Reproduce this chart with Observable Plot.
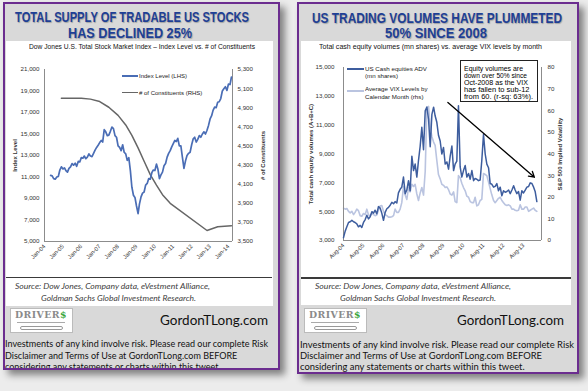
<!DOCTYPE html>
<html><head><meta charset="utf-8">
<script src="https://cdn.jsdelivr.net/npm/d3@7"></script>
<script src="https://cdn.jsdelivr.net/npm/@observablehq/plot@0.6"></script>
<style>
html,body{margin:0;padding:0}
body{width:588px;height:391px;position:relative;overflow:hidden;background:#ececec;font-family:"Liberation Sans",Arial,sans-serif}
.bg{position:absolute;background:#d9d9d9;box-shadow:5px 5px 7px rgba(0,0,0,0.45)}
.layer{position:absolute;left:0;top:0;width:588px;height:391px}
.border{position:absolute;border:2.5px solid #6b2d8f;box-sizing:border-box}
.t{position:absolute;white-space:nowrap;line-height:1;transform-origin:0 0}
.box{position:absolute;box-sizing:border-box}
</style>
</head><body>
<script>
// ================= DATA =================
// Left chart: Dow Jones U.S. Total Stock Market Index (monthly, from May 2004)
const indexStart = "2004-05";
const indexValues = [
  11150, 11100, 10850, 10800, 11000, 11050, 11650, 11950,
  11750, 11850, 11600, 11450, 11800, 11950, 12250, 12100, 12280, 12000, 12450, 12400,
  12800, 12750, 12950, 12700, 12850, 13150, 12950, 12900, 13200, 13500, 13750, 13950,
  14200, 14400, 14250, 15400, 15200, 14850, 14900, 15250, 15650, 15500, 14850, 14700,
  13900, 13750, 13450, 14000, 13300, 13150, 12550, 12800, 11600, 10050, 9300, 9100,
  8300, 7600, 8500, 9150, 9500, 9600, 10250, 10400, 10850, 10800, 11400, 11650,
  11600, 12200, 11750, 10850, 11200, 11450, 12050, 12250, 12850, 13200, 13450, 13800,
  14100, 14400, 14300, 14600, 13900, 13900, 12850, 11800, 12500, 13000, 13200, 13300,
  14000, 14550, 14700, 14250, 14500, 14850, 14700, 15000, 15200, 15000, 15350, 15800,
  16400, 16700, 17200, 17500, 17450, 17950, 18000, 18300, 19000, 19200, 19400, 19050,
  19650, 19600, 20300
];
// Number of constituents (RHS)
const constituentDates = ["2004-12","2005-06","2006-01","2006-07","2007-01","2007-07","2008-01","2008-06","2008-10","2009-02","2009-06","2009-10","2010-02","2010-06","2010-11","2012-11","2013-06","2014-03"];
const constituentValues = [5000,5000,5000,4990,4965,4905,4820,4720,4610,4480,4340,4200,4090,3990,3900,3615,3655,3665];
const leftYTicks = [5000,7000,9000,11000,13000,15000,17000,19000,21000];
const leftY2Ticks = [3500,3700,3900,4100,4300,4500,4700,4900,5100,5300];
const leftXTicks = ["2004-01","2005-01","2006-01","2007-01","2008-01","2009-01","2010-01","2011-01","2012-01","2013-01","2014-01"];

// Right chart: US cash equities ADV (mn shares), monthly from Aug 2004
const volumeStart = "2004-08";
const volumeValues = [
  3200, 3650, 3950, 4250, 4300,
  4400, 4300, 4250, 4150, 3950, 4050, 3900, 4250, 4450, 4750, 4500, 4650,
  5000, 4900, 5100, 4850, 5350, 5250, 4900, 4400, 4950, 5200, 5300, 5450,
  5650, 5550, 5700, 5600, 6300, 6550, 6700, 7400, 6250, 6500, 7150, 6450,
  8850, 7850, 8300, 7400, 8550, 9550, 10850, 9300, 12000, 12250, 11400, 9500,
  11750, 12250, 11650, 11200, 10300, 9900, 9000, 9450, 8300, 8450, 7950, 8850,
  9550, 7850, 8300, 8500, 12350, 8100, 7400, 7850, 8200, 7400, 7650, 7250,
  7850, 7150, 7300, 7250, 7150, 7200, 8550, 10350, 9000, 8300, 8050, 6950,
  6900, 6700, 6750, 6950, 6450, 6700, 6100, 6450, 6350, 6400, 6500, 6250,
  6500, 6800, 6500, 6250, 6400, 5800, 6450, 6300, 6500, 6700, 6750, 7000,
  6950, 6700, 6400, 5700
];
// Average VIX by calendar month (rhs), from Aug 2004
const vixStart = "2004-08";
const vixValues = [
  15.0, 14.5, 14.8, 13.5, 12.8,
  13.5, 12.0, 13.0, 14.5, 13.8, 11.5, 11.2, 12.5, 12.0, 14.5, 11.8, 11.5,
  12.5, 12.0, 11.5, 11.8, 14.0, 16.0, 16.2, 13.5, 12.0, 11.5, 10.8, 10.8,
  11.0, 11.5, 14.5, 13.0, 13.0, 14.5, 17.5, 25.0, 21.0, 19.0, 24.5, 22.5,
  26.0, 25.0, 26.0, 21.5, 18.5, 22.0, 24.5, 21.0, 32.0, 61.5, 62.0, 52.5,
  48.0, 45.5, 44.0, 37.0, 30.5, 28.5, 26.0, 25.5, 24.5, 24.8, 23.5, 21.5,
  21.0, 22.5, 18.0, 17.5, 30.0, 29.0, 26.5, 24.5, 23.0, 20.5, 20.0, 18.0,
  17.5, 17.5, 20.0, 16.0, 16.5, 18.5, 19.0, 31.0, 30.5, 30.0, 27.0, 24.0,
  21.0, 18.5, 17.5, 18.5, 19.5, 20.0, 18.5, 17.5, 16.5, 16.2, 16.5, 16.0,
  14.5, 14.5, 14.0, 13.8, 14.0, 16.5, 14.5, 14.5, 15.5, 15.5, 13.5, 14.0,
  14.5, 15.0, 14.0, 13.5
];
const rightYTicks = [3000,5000,7000,9000,11000,13000,15000];
const rightY2Ticks = [0,10,20,30,40,50,60,70,80];
const rightXTicks = ["2004-08","2005-08","2006-08","2007-08","2008-08","2009-08","2010-08","2011-08","2012-08","2013-08"];
// Annotation arrow (volume axis units)
const arrowStart = {date:"2009-10-20", value:12580};
const arrowEnd = {date:"2014-02-15", value:7390};

// Texts
const leftTitle = ["TOTAL SUPPLY OF TRADABLE US STOCKS","HAS DECLINED 25%"];
const rightTitle = ["US TRADING VOLUMES HAVE PLUMMETED","50% SINCE 2008"];
const leftSubtitle = "Dow Jones U.S. Total Stock Market Index \u2013 Index Level vs. # of Constituents";
const rightSubtitle = "Total cash equity volumes (mn shares) vs. average VIX levels by month";
const sourceLines = ["Source: Dow Jones, Company data, eVestment Alliance,","Goldman Sachs Global Investment Research."];
const disclaimer = ["Investments of any kind involve risk. Please read our complete Risk","Disclaimer and Terms of Use at GordonTLong.com  BEFORE","considering any statements or charts within this tweet."];
const noteLines = ["Equity volumes are","down over 50% since","Oct-2008 as the VIX","has fallen to sub-12","from 60. (r-sq: 63%)."];

// ================= HELPERS =================
const pm = d3.utcParse("%Y-%m");
const pd = d3.utcParse("%Y-%m-%d");
const monthly = (start, vals) => vals.map((v,i)=>({date:d3.utcMonth.offset(pm(start),i), v}));
const CH = "Liberation Sans, Arial, sans-serif";
const BASE = {"Liberation Sans":0.85, "Lato":0.89, "DejaVu Serif":0.86};

function div(parent, cls, css){ const e=document.createElement("div"); e.className=cls; Object.assign(e.style, css); parent.appendChild(e); return e; }
function txt(parent, s, x, base, fs, o={}){
  const fam=o.font||"Liberation Sans";
  const e=div(parent,"t",{left:x+"px",top:(base-BASE[fam]*fs)+"px",fontSize:fs+"px",fontFamily:`"${fam}"`,color:o.color||"#000",fontWeight:o.bold?"bold":"normal",fontStyle:o.italic?"italic":"normal"});
  if(o.shadow) e.style.textShadow=o.shadow;
  e.textContent=s;
  if(o.w){ const w=e.getBoundingClientRect().width; o.scale=o.w/w; }
  if(o.scale) e.style.transform=`scaleX(${o.scale})`;
  return e;
}
function place(svg, parent, x, y, z){ svg.style.position="absolute"; svg.style.left=x+"px"; svg.style.top=y+"px"; svg.style.zIndex=z||1; parent.appendChild(svg);
  d3.select(svg).selectAll('g[aria-label="y-axis label"] text').attr("font-weight","bold").style("font-size","6px"); }

function panel(x0,y0,w,h){
  div(document.body,"bg",{left:x0+"px",top:y0+"px",width:w+"px",height:h+"px"});
  const L=div(document.body,"layer",{clipPath:`inset(${y0}px ${588-x0-w}px ${391-y0-h}px ${x0}px)`});
  return {L, border:()=>div(document.body,"border",{left:x0+"px",top:y0+"px",width:w+"px",height:h+"px",zIndex:10})};
}
function logo(L,x,y){
  const b=div(L,"box",{left:x+"px",top:y+"px",width:"63px",height:"25px",background:"#fff",border:"0.5px solid #bbb"});
  const e=div(L,"t",{left:(x+5)+"px",top:(y+2)+"px",fontSize:"10px",fontFamily:'"DejaVu Serif"',fontWeight:"bold",color:"#8a8a8a",letterSpacing:"0.5px"});
  e.innerHTML='DRIVER<span style="color:#3aa63a">$</span>';
  const w=e.getBoundingClientRect().width; e.style.transform=`scaleX(${52/w})`;
  div(L,"box",{left:(x+7)+"px",top:(y+14)+"px",width:"48px",height:"0.6px",background:"#aaa"});
  div(L,"box",{left:(x+10)+"px",top:(y+18)+"px",width:"43px",height:"4px",border:"0.6px solid #999",borderRadius:"2px"});
}

// ================= LEFT PANEL =================
{
  const P=panel(3,2,277,368), L=P.L;
  div(L,"box",{left:"6px",top:"40.5px",width:"267px",height:"265.5px",background:"#fff"});
  txt(L,leftTitle[0],15,21.8,14,{bold:true,color:"#1e3f95",w:234,shadow:"1px 1px 1px rgba(0,0,0,0.25)"});
  txt(L,leftTitle[1],68,38.3,14,{bold:true,color:"#1e3f95",w:124,shadow:"1px 1px 1px rgba(0,0,0,0.25)"});
  txt(L,leftSubtitle,29,49.2,6.5,{w:226,color:"#111"});

  const xdom=[pm("2004-01"), pd("2014-03-22")];
  const common={width:270,height:225,marginLeft:40,marginRight:42,marginTop:14,marginBottom:39,
    style:{background:"transparent",fontFamily:CH,fontSize:"6.2px",color:"#333",overflow:"visible"}};
  const idx=monthly(indexStart,indexValues);
  const con=constituentDates.map((d,i)=>({date:pm(d),v:constituentValues[i]}));
  const pR=Plot.plot({...common, x:{type:"utc",domain:xdom,axis:null}, y:{domain:[3500,5300]}, marks:[
    Plot.ruleX([xdom[1]],{stroke:"#8c8c8c",strokeWidth:1}),
    Plot.axisY({anchor:"right",ticks:leftY2Ticks,tickFormat:d3.format(","),tickSize:0,tickPadding:5,label:"# of Constituents",labelAnchor:"center",labelArrow:"none",labelOffset:32}),
    Plot.line(con,{x:"date",y:"v",stroke:"#666",strokeWidth:1.5})
  ]});
  const pL=Plot.plot({...common, x:{type:"utc",domain:xdom}, y:{domain:[5000,21000]}, marks:[
    Plot.ruleY([5000],{stroke:"#8c8c8c",strokeWidth:1}),
    Plot.ruleX([xdom[0]],{stroke:"#8c8c8c",strokeWidth:1}),
    Plot.axisY({ticks:leftYTicks,tickFormat:d3.format(","),tickSize:0,tickPadding:5,label:"Index Level",labelAnchor:"center",labelArrow:"none",labelOffset:32}),
    Plot.axisX({ticks:leftXTicks.map(pm),tickFormat:d3.utcFormat("%b-%y"),tickSize:0,tickPadding:4,tickRotate:-45,label:null,fontSize:"5.8px"}),
    Plot.line(idx,{x:"date",y:"v",stroke:"#4a6db5",strokeWidth:1.7})
  ]});
  place(pR,L,4,55,1); place(pL,L,4,55,2);

  div(L,"box",{left:"122px",top:"75.2px",width:"16px",height:"1.8px",background:"#4a6db5",zIndex:3});
  txt(L,"Index Level (LHS)",139,78.2,6,{color:"#222"});
  div(L,"box",{left:"122px",top:"91.8px",width:"16px",height:"1.6px",background:"#666",zIndex:3});
  txt(L,"# of Constituents (RHS)",139,94.8,6,{color:"#222"});

  div(L,"box",{left:"6px",top:"276.8px",width:"266px",height:"1.5px",background:"#3a3a3a"});
  txt(L,sourceLines[0],15,289.5,8,{font:"Lato",italic:true,color:"#404040",w:195});
  txt(L,sourceLines[1],41,301.5,8,{font:"Lato",italic:true,color:"#404040",w:155});
  logo(L,10,308);
  txt(L,"GordonTLong.com",160,326,13,{font:"Lato",color:"#111",w:108});
  const o={font:"Lato",color:"#111",w:263}; txt(L,disclaimer[0],5,347.2,9,o);
  txt(L,disclaimer[1],5,359,9,{font:"Lato",color:"#111",scale:o.scale});
  txt(L,disclaimer[2],5,370.5,9,{font:"Lato",color:"#111",scale:o.scale});
  P.border();
}

// ================= RIGHT PANEL =================
{
  const P=panel(297,2,282,372), L=P.L;
  div(L,"box",{left:"300.5px",top:"40.5px",width:"270px",height:"264.5px",background:"#fff"});
  txt(L,rightTitle[0],312,22.5,14,{bold:true,color:"#1e3f95",w:250,shadow:"1px 1px 1px rgba(0,0,0,0.25)"});
  txt(L,rightTitle[1],385,38.3,14,{bold:true,color:"#1e3f95",w:102,shadow:"1px 1px 1px rgba(0,0,0,0.25)"});
  txt(L,rightSubtitle,319,49.5,6.5,{w:223,color:"#111"});

  const xdom=[pm("2004-08"), pd("2014-06-25")];
  const common={width:278,height:225,marginLeft:45,marginRight:35,marginTop:12,marginBottom:40,
    style:{background:"transparent",fontFamily:CH,fontSize:"6.2px",color:"#333",overflow:"visible"}};
  const vol=monthly(volumeStart,volumeValues), vix=monthly(vixStart,vixValues);
  const pR=Plot.plot({...common, x:{type:"utc",domain:xdom,axis:null}, y:{domain:[0,80]}, marks:[
    Plot.ruleX([xdom[1]],{stroke:"#8c8c8c",strokeWidth:1}),
    Plot.axisY({anchor:"right",ticks:rightY2Ticks,tickSize:0,tickPadding:6,label:"S&P 500 Implied Volatility",labelAnchor:"center",labelArrow:"none",labelOffset:20}),
    Plot.line(vix,{x:"date",y:"v",stroke:"#bac4e0",strokeWidth:1.6})
  ]});
  const pL=Plot.plot({...common, x:{type:"utc",domain:xdom}, y:{domain:[3000,15000]}, marks:[
    Plot.ruleY([3000],{stroke:"#8c8c8c",strokeWidth:1}),
    Plot.ruleX([xdom[0]],{stroke:"#8c8c8c",strokeWidth:1}),
    Plot.axisY({ticks:rightYTicks,tickFormat:d3.format(","),tickSize:0,tickPadding:9,label:"Total cash equity volumes (A+B+C)",labelAnchor:"center",labelArrow:"none",labelOffset:35}),
    Plot.axisX({ticks:rightXTicks.map(pm),tickFormat:d3.utcFormat("%b-%y"),tickSize:0,tickPadding:4,tickRotate:-45,label:null,fontSize:"5.8px"}),
    Plot.line(vol,{x:"date",y:"v",stroke:"#3d5d9e",strokeWidth:1.5}),
    Plot.arrow([{x1:pd(arrowStart.date),y1:arrowStart.value,x2:pd(arrowEnd.date),y2:arrowEnd.value}],{x1:"x1",y1:"y1",x2:"x2",y2:"y2",stroke:"#000",strokeWidth:1.3,headLength:7})
  ]});
  place(pR,L,298,55,1); place(pL,L,298,55,2);

  div(L,"box",{left:"347px",top:"68.2px",width:"17px",height:"1.8px",background:"#3d5d9e",zIndex:3});
  txt(L,"US Cash equities ADV",365,71.2,6.2,{color:"#222"});
  txt(L,"(mn shares)",365,78.4,6.2,{color:"#222"});
  div(L,"box",{left:"347px",top:"89.9px",width:"17px",height:"1.8px",background:"#bac4e0",zIndex:3});
  txt(L,"Average VIX Levels by",365,91.6,6.2,{color:"#222"});
  txt(L,"Calendar Month (rhs)",365,98.8,6.2,{color:"#222"});

  div(L,"box",{left:"460px",top:"60px",width:"78px",height:"42px",background:"#fff",border:"1px solid #222",zIndex:3});
  const nb=[71.3,78.4,85.5,92.6,99.8], nw=[59,63,64,65.5,69];
  noteLines.forEach((s,i)=>{ const e=txt(L,s,463.5,nb[i],6.4,{color:"#000",w:nw[i]}); e.style.zIndex=4; });

  div(L,"box",{left:"301px",top:"277.3px",width:"270px",height:"1.5px",background:"#3a3a3a"});
  txt(L,sourceLines[0],314.7,289.5,8,{font:"Lato",italic:true,color:"#404040",w:196});
  txt(L,sourceLines[1],339.7,301.5,8,{font:"Lato",italic:true,color:"#404040",w:156});
  logo(L,304,308);
  txt(L,"GordonTLong.com",457,325.5,13,{font:"Lato",color:"#111",w:107});
  const o={font:"Lato",color:"#111",w:274}; txt(L,disclaimer[0],299.5,348,9,o);
  txt(L,disclaimer[1],299.5,359.5,9,{font:"Lato",color:"#111",scale:o.scale});
  txt(L,disclaimer[2],299.5,370,9,{font:"Lato",color:"#111",scale:o.scale});
  P.border();
}
</script>
</body></html>
